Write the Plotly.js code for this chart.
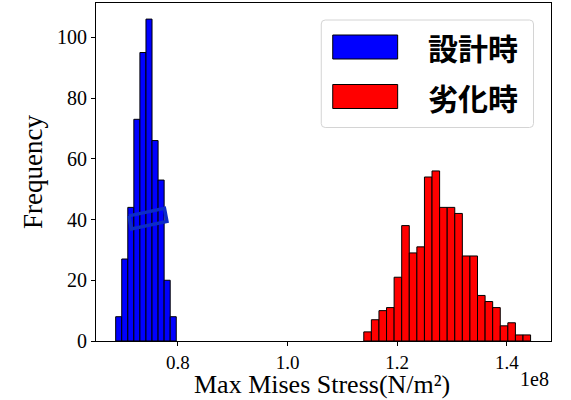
<!DOCTYPE html>
<html>
<head>
<meta charset="utf-8">
<script src="https://cdn.plot.ly/plotly-3.0.1.min.js"></script>
<style>html,body{margin:0;padding:0;background:#fff;}#chart{width:571px;height:400px;}</style>
</head>
<body>
<div id="chart"></div>
<script>
// Values in units of 1e8 N/m^2
const designStart = 0.6864;
const designWidth = 0.01105;
const designCounts = [8, 27, 44, 73, 95, 106, 66, 53, 20, 8];

const degradedStart = 1.139;
const degradedWidth = 0.01383;
const degradedCounts = [3, 7, 10, 11, 21, 38, 29, 31, 54, 56, 44, 44, 42, 28, 28, 15, 13, 11, 5, 6, 2, 2];

const seriesNames = ['設計時', '劣化時'];
const xTickVals = [0.8, 1.0, 1.2, 1.4];
const yTickVals = [0, 20, 40, 60, 80, 100];
const xTitle = 'Max Mises Stress(N/m²)';
const yTitle = 'Frequency';

// stray rotated rectangle seen on the reference (data coords)
const boxX = [0.7107, 0.7754, 0.7799, 0.7152, 0.7107];
const boxY = [41.2, 43.7, 39.4, 36.9, 41.2];

function centers(start, width, counts) {
  return counts.map((_, i) => start + width * (i + 0.5));
}

const traces = [
  {
    type: 'bar', name: seriesNames[0],
    x: centers(designStart, designWidth, designCounts), y: designCounts,
    width: designWidth,
    marker: {color: '#0000ff', line: {color: '#000', width: 1}},
    showlegend: false
  },
  {
    type: 'bar', name: seriesNames[1],
    x: centers(degradedStart, degradedWidth, degradedCounts), y: degradedCounts,
    width: degradedWidth,
    marker: {color: '#ff0000', line: {color: '#000', width: 1}},
    showlegend: false
  },
  {
    type: 'scatter', mode: 'lines', x: boxX, y: boxY,
    line: {color: '#0c2cc8', width: 3.5},
    showlegend: false, hoverinfo: 'skip'
  }
];

// plot area pixels
const L = 96, R = 551.5, T = 3, B = 341;
const px = v => (v - L) / (R - L);
const py = v => 1 - (v - T) / (B - T);

function roundRect(x0, y0, x1, y1, r) {
  const X0 = px(x0), X1 = px(x1), Y0 = py(y0), Y1 = py(y1);
  const rx = r / (R - L), ry = r / (B - T);
  return `M ${X0 + rx} ${Y0} L ${X1 - rx} ${Y0} Q ${X1} ${Y0} ${X1} ${Y0 - ry} L ${X1} ${Y1 + ry} Q ${X1} ${Y1} ${X1 - rx} ${Y1} L ${X0 + rx} ${Y1} Q ${X0} ${Y1} ${X0} ${Y1 + ry} L ${X0} ${Y0 - ry} Q ${X0} ${Y0} ${X0 + rx} ${Y0} Z`;
}

const legendColors = ['#0000ff', '#ff0000'];
const legendRows = [47, 96.5];

const shapes = [
  {type: 'path', xref: 'paper', yref: 'paper', path: roundRect(321.5, 20, 534, 127.5, 4),
   line: {color: '#d4d4d4', width: 1}, fillcolor: 'rgba(255,255,255,0.85)', layer: 'above'}
];
const annotations = [];
legendRows.forEach((yc, i) => {
  shapes.push({type: 'rect', xref: 'paper', yref: 'paper',
    x0: px(333), x1: px(398), y0: py(yc - 12), y1: py(yc + 12),
    fillcolor: legendColors[i], line: {color: '#000', width: 1}, layer: 'above'});
  annotations.push({xref: 'paper', yref: 'paper', x: px(426), y: py(yc), xanchor: 'left', yanchor: 'middle',
    text: '<b>' + seriesNames[i] + '</b>', showarrow: false,
    font: {family: 'Noto Sans CJK JP', size: 30, color: '#000'}});
});
annotations.push({xref: 'paper', yref: 'paper', x: px(551), y: py(379), xanchor: 'right', yanchor: 'middle',
  text: '1e8', showarrow: false, font: {family: 'Liberation Serif', size: 20, color: '#000'}});
annotations.push({xref: 'paper', yref: 'paper', x: px(322.5), y: py(400), xanchor: 'center', yanchor: 'bottom',
  text: xTitle, showarrow: false, borderpad: 0,
  font: {family: 'Liberation Serif', size: 26, color: '#000'}});

const layout = {
  width: 571, height: 400,
  margin: {l: L, r: 571 - R, t: T, b: 400 - B, pad: 0},
  paper_bgcolor: '#fff', plot_bgcolor: '#fff',
  font: {family: 'Liberation Serif', color: '#000'},
  barmode: 'overlay',
  xaxis: {
    range: [0.6505, 1.4805], tickvals: xTickVals, ticktext: xTickVals.map(v => v.toFixed(1)),
    ticks: 'outside', ticklen: 4, tickcolor: '#000', tickwidth: 1,
    showline: true, linecolor: '#000', linewidth: 1, mirror: true,
    showgrid: false, zeroline: false,
    tickfont: {family: 'Liberation Serif', size: 19, color: '#000'}
  },
  yaxis: {
    range: [0, 111.3], tickvals: yTickVals,
    ticks: 'outside', ticklen: 4, tickcolor: '#000', tickwidth: 1,
    showline: true, linecolor: '#000', linewidth: 1, mirror: true,
    showgrid: false, zeroline: false,
    tickfont: {family: 'Liberation Serif', size: 20, color: '#000'},
    title: {text: yTitle, font: {family: 'Liberation Serif', size: 27, color: '#000'}, standoff: 6}
  },
  shapes: shapes,
  annotations: annotations,
  showlegend: false
};

Plotly.newPlot('chart', traces, layout, {staticPlot: true, displayModeBar: false});
</script>
</body>
</html>
